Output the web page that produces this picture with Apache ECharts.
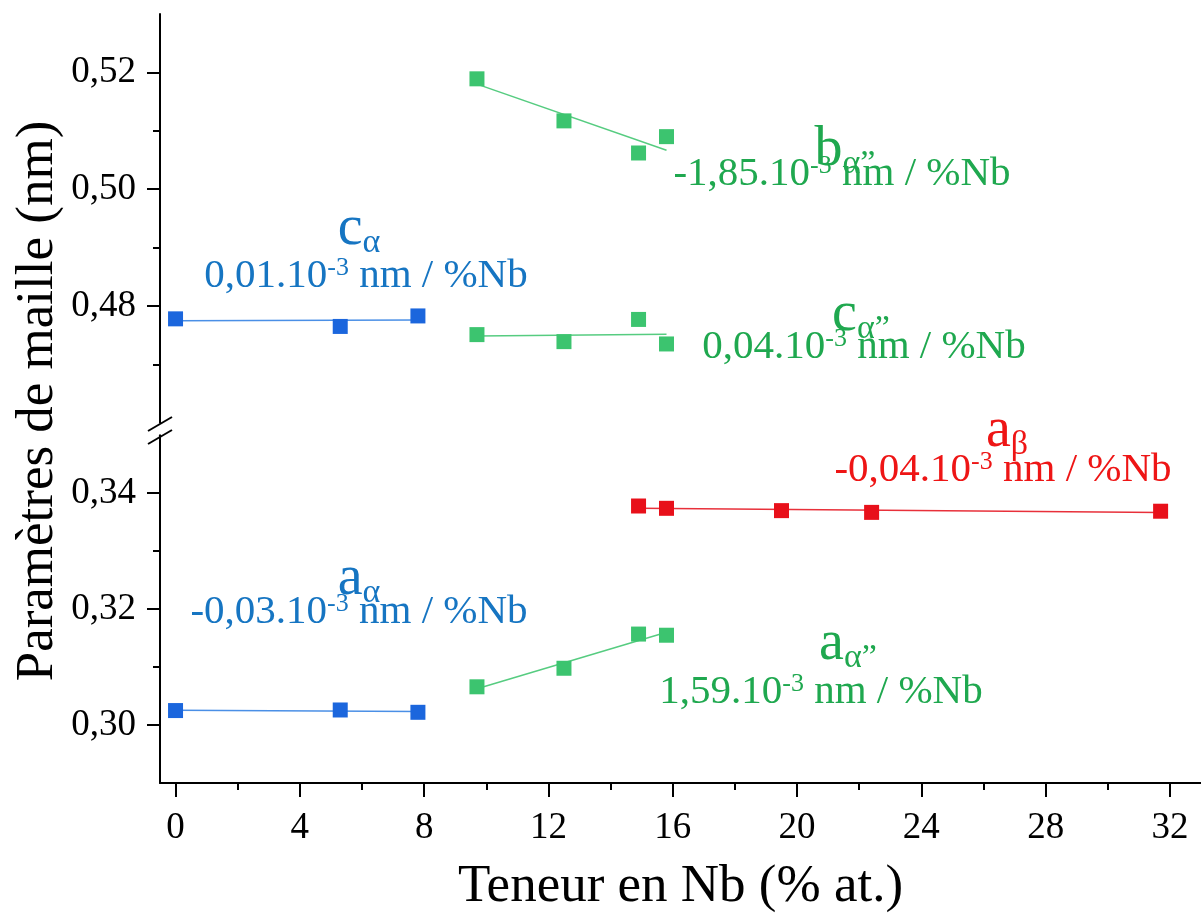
<!DOCTYPE html>
<html><head><meta charset="utf-8">
<script src="https://cdn.jsdelivr.net/npm/echarts@6/dist/echarts.min.js"></script>
<style>html,body{margin:0;padding:0;background:#fff}#c{width:1201px;height:915px}</style>
</head><body><div id="c"></div>
<script>
// ---- data ----
const xAlpha  = [0, 5.3, 7.8];                 // % at. Nb, alpha phase
const aAlpha  = [0.3025, 0.3026, 0.3022];      // a_alpha (nm)
const cAlpha  = [0.4778, 0.4765, 0.4783];      // c_alpha (nm)
const xAlpha2 = [9.7, 12.5, 14.9, 15.8];       // % at. Nb, alpha'' phase
const aAlpha2 = [0.3066, 0.3098, 0.3157, 0.3155];
const bAlpha2 = [0.5189, 0.5117, 0.5062, 0.5090];
const cAlpha2 = [0.4751, 0.4739, 0.4777, 0.4735];
const xBeta   = [14.9, 15.8, 19.5, 22.4, 31.7]; // % at. Nb, beta phase
const aBeta   = [0.3378, 0.3374, 0.3370, 0.3367, 0.3369];

const xTicks      = [0, 4, 8, 12, 16, 20, 24, 28, 32];
const xMinorTicks = [2, 6, 10, 14, 18, 22, 26, 30];
const yTicksUpper = [0.48, 0.50, 0.52];
const yMinorUpper = [0.47, 0.49, 0.51];
const yTicksLower = [0.30, 0.32, 0.34];
const yMinorLower = [0.31, 0.33];

const xTitle = 'Teneur en Nb (% at.)';
const yTitle = 'Paramètres de maille (nm)';

// ---- styling ----
const FONT = '"Liberation Serif", "Times New Roman", serif';
const BLUE_M = '#1b66dd', BLUE_L = '#4a8fe6', BLUE_T = '#1675c2';
const GREEN_M = '#3cc46f', GREEN_L = '#56cc80', GREEN_T = '#1fa84f';
const RED_M = '#e8101a', RED_L = '#e8303a', RED_T = '#ee1515';

function pairs(xs, ys) { return xs.map((x, i) => [x, ys[i]]); }
function fit(xs, ys) {
  const n = xs.length;
  const mx = xs.reduce((a, b) => a + b, 0) / n;
  const my = ys.reduce((a, b) => a + b, 0) / n;
  let sxy = 0, sxx = 0;
  for (let i = 0; i < n; i++) { sxy += (xs[i] - mx) * (ys[i] - my); sxx += (xs[i] - mx) ** 2; }
  const b = sxy / sxx, a = my - b * mx;
  return [[xs[0], a + b * xs[0]], [xs[n - 1], a + b * xs[n - 1]]];
}
const fmt = v => v.toFixed(2).replace('.', ',');

const chart = echarts.init(document.getElementById('c'), null, { renderer: 'canvas' });

const X0 = 160, XW = 1041;
const tickLine = { color: '#000', width: 2 };

function yAxes(grid, min, max, major, minor) {
  return [
    { gridIndex: grid, type: 'value', min, max, position: 'left',
      axisLine: { show: true, onZero: false, lineStyle: tickLine },
      axisTick: { show: true, customValues: major, length: 13, inside: false, lineStyle: tickLine },
      axisLabel: { customValues: major, formatter: fmt, fontFamily: FONT, fontSize: 37, color: '#000', margin: 24 },
      splitLine: { show: false } },
    { gridIndex: grid, type: 'value', min, max, position: 'left',
      axisLine: { show: false, onZero: false },
      axisTick: { show: true, customValues: minor, length: 7, inside: false, lineStyle: tickLine },
      axisLabel: { show: false }, splitLine: { show: false } }
  ];
}

const MAIN = 56, SUB = 34;
function label(x, y, main, sub, color) {
  return { type: 'text', x, y, z: 100,
    style: { text: '{m|' + main + '}{s|' + sub + '}', fill: color, align: 'center', verticalAlign: 'middle',
      textAlign: 'center', textVerticalAlign: 'middle',
      rich: {
        m: { fontFamily: FONT, fontSize: MAIN, lineHeight: MAIN, fill: color, color, verticalAlign: 'top' },
        s: { fontFamily: FONT, fontSize: SUB, lineHeight: SUB, fill: color, color, verticalAlign: 'top', padding: [25, 0, 0, 0] }
      } } };
}
function slope(x, y, pre, post, color) {
  return { type: 'text', x, y, z: 100,
    style: { text: '{m|' + pre + '}{p|-3}{m|' + post + '}', fill: color, align: 'center', verticalAlign: 'middle',
      textAlign: 'center', textVerticalAlign: 'middle',
      rich: {
        m: { fontFamily: FONT, fontSize: 41, lineHeight: 41, fill: color, color, verticalAlign: 'top' },
        p: { fontFamily: FONT, fontSize: 26, lineHeight: 26, fill: color, color, verticalAlign: 'top' }
      } } };
}

const sq = (name, xa, ya, data, color) => ({ name, type: 'scatter', xAxisIndex: xa, yAxisIndex: ya, data,
  symbol: 'rect', symbolSize: 15, itemStyle: { color, opacity: 1 }, z: 5, silent: true });
const ln = (name, xa, ya, data, color) => ({ name, type: 'line', xAxisIndex: xa, yAxisIndex: ya, data,
  symbol: 'none', lineStyle: { color, width: 1.5 }, z: 3, silent: true, animation: false });

const option = {
  animation: false,
  backgroundColor: '#fff',
  grid: [
    { left: X0, width: XW, top: 14, height: 408.8 },
    { left: X0, width: XW, top: 435.3, height: 350.4 }
  ],
  xAxis: [
    { gridIndex: 0, type: 'value', min: -0.5, max: 33, show: false },
    { gridIndex: 1, type: 'value', min: -0.5, max: 33, position: 'bottom',
      axisLine: { show: true, lineStyle: tickLine, onZero: false },
      axisTick: { show: true, customValues: xTicks, length: 14, inside: false, lineStyle: tickLine },
      axisLabel: { customValues: xTicks, fontFamily: FONT, fontSize: 37, color: '#000', margin: 27 },
      splitLine: { show: false },
      name: xTitle, nameLocation: 'middle', nameGap: 78,
      nameTextStyle: { fontFamily: FONT, fontSize: 53, color: '#000' } },
    { gridIndex: 1, type: 'value', min: -0.5, max: 33, position: 'bottom',
      axisLine: { show: false, onZero: false },
      axisTick: { show: true, customValues: xMinorTicks, length: 7, inside: false, lineStyle: tickLine },
      axisLabel: { show: false }, splitLine: { show: false } }
  ],
  yAxis: [].concat(yAxes(0, 0.46, 0.53, yTicksUpper, yMinorUpper), yAxes(1, 0.29, 0.35, yTicksLower, yMinorLower)),
  series: [
    ln('fit c alpha', 0, 0, fit(xAlpha, cAlpha), BLUE_L),
    ln('fit b alpha2', 0, 0, fit(xAlpha2, bAlpha2), GREEN_L),
    ln('fit c alpha2', 0, 0, fit(xAlpha2, cAlpha2), GREEN_L),
    ln('fit a alpha', 1, 2, fit(xAlpha, aAlpha), BLUE_L),
    ln('fit a alpha2', 1, 2, fit(xAlpha2, aAlpha2), GREEN_L),
    ln('fit a beta', 1, 2, fit(xBeta, aBeta), RED_L),
    sq('c alpha', 0, 0, pairs(xAlpha, cAlpha), BLUE_M),
    sq('b alpha2', 0, 0, pairs(xAlpha2, bAlpha2), GREEN_M),
    sq('c alpha2', 0, 0, pairs(xAlpha2, cAlpha2), GREEN_M),
    sq('a alpha', 1, 2, pairs(xAlpha, aAlpha), BLUE_M),
    sq('a alpha2', 1, 2, pairs(xAlpha2, aAlpha2), GREEN_M),
    sq('a beta', 1, 2, pairs(xBeta, aBeta), RED_M)
  ],
  graphic: [
    { type: 'line', shape: { x1: 148, y1: 431, x2: 172, y2: 417 }, style: { stroke: '#000', lineWidth: 2 }, z: 50 },
    { type: 'line', shape: { x1: 148, y1: 444, x2: 172, y2: 430 }, style: { stroke: '#000', lineWidth: 2 }, z: 50 },
    { type: 'text', x: 38, y: 401, rotation: Math.PI / 2, z: 100,
      style: { text: yTitle, fill: '#000', font: '53px ' + FONT, align: 'center', verticalAlign: 'middle',
        textAlign: 'center', textVerticalAlign: 'middle' } },
    label(359, 229, 'c', 'α', BLUE_T),
    slope(366, 276, '0,01.10', ' nm / %Nb', BLUE_T),
    label(845, 150, 'b', 'α”', GREEN_T),
    slope(842, 174, '-1,85.10', ' nm / %Nb', GREEN_T),
    label(861, 315, 'c', 'α”', GREEN_T),
    slope(864, 347, '0,04.10', ' nm / %Nb', GREEN_T),
    label(1007, 431, 'a', 'β', RED_T),
    slope(1003, 470, '-0,04.10', ' nm / %Nb', RED_T),
    label(359, 579, 'a', 'α', BLUE_T),
    slope(359, 612, '-0,03.10', ' nm / %Nb', BLUE_T),
    label(848, 644, 'a', 'α”', GREEN_T),
    slope(821, 692, '1,59.10', ' nm / %Nb', GREEN_T)
  ]
};
chart.setOption(option);
</script></body></html>
